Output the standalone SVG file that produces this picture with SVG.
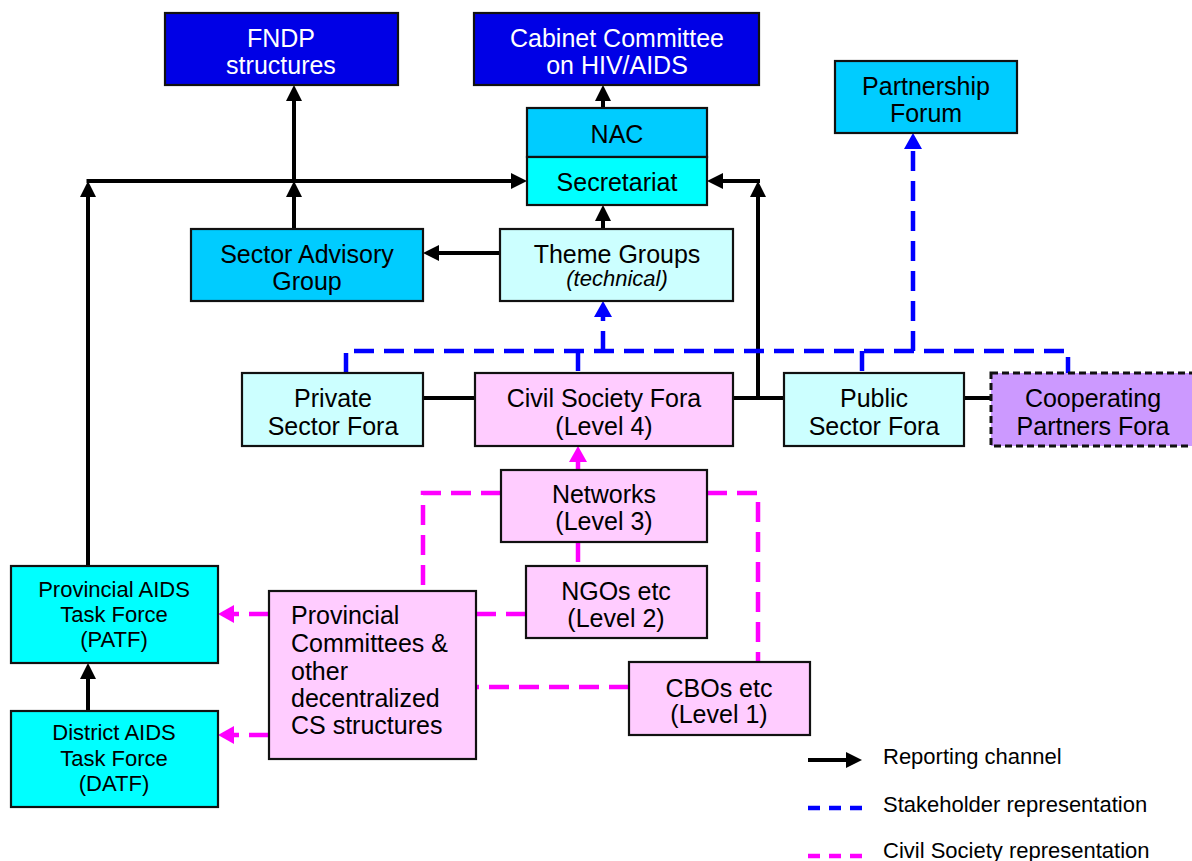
<svg xmlns="http://www.w3.org/2000/svg" width="1192" height="861" viewBox="0 0 1192 861">
<style>
text{font-family:"Liberation Sans",Arial,sans-serif;fill:#000;text-anchor:middle}
text.l{text-anchor:start}
.t25{font-size:25px}
.t22{font-size:22px}
.w{fill:#fff}
.box{stroke:#111;stroke-width:2.2}
.dk{fill:#0000E6}
.sky{fill:#00CCFF}
.cy{fill:#00FFFF}
.pale{fill:#CCFFFF}
.pink{fill:#FFCCFF}
.purp{fill:#CC99FF}
.rep{fill:none;stroke:#000;stroke-width:4}
.stk{fill:none;stroke:#0000FF;stroke-width:4.5;stroke-dasharray:20 10}
.cs{fill:none;stroke:#FF00FF;stroke-width:4.5;stroke-dasharray:20 10}
</style>
<defs>
<marker id="ab" markerUnits="userSpaceOnUse" markerWidth="18" markerHeight="18" refX="0" refY="8" orient="auto" overflow="visible"><path d="M0,0 L16,8 L0,16 Z" fill="#000"/></marker>
<marker id="abl" markerUnits="userSpaceOnUse" markerWidth="18" markerHeight="18" refX="0" refY="9" orient="auto" overflow="visible"><path d="M0,0 L16,9 L0,18 Z" fill="#0000FF"/></marker>
<marker id="am" markerUnits="userSpaceOnUse" markerWidth="18" markerHeight="18" refX="0" refY="9" orient="auto" overflow="visible"><path d="M0,0 L16,9 L0,18 Z" fill="#FF00FF"/></marker>
</defs>
<rect width="1192" height="861" fill="#fff"/>

<g id="connectors">
<path class="rep" d="M294,229 L294,197" marker-end="url(#ab)"/>
<path class="rep" d="M294,181 L294,101" marker-end="url(#ab)"/>
<path class="rep" d="M88,566 L88,197" marker-end="url(#ab)"/>
<path class="rep" d="M86.5,181 L511,181" stroke-width="3.5" marker-end="url(#ab)"/>
<path class="rep" d="M603,108 L603,101" marker-end="url(#ab)"/>
<path class="rep" d="M603,229 L603,221" marker-end="url(#ab)"/>
<path class="rep" d="M500,253 L439,253" stroke-width="5" marker-end="url(#ab)"/>
<path class="rep" d="M758,398 L758,197" marker-end="url(#ab)"/>
<path class="rep" d="M760,181 L723,181" marker-end="url(#ab)"/>
<path class="rep" d="M733,398 L784,398" stroke-width="3"/>
<path class="rep" d="M423,398 L475,398" stroke-width="3"/>
<path class="rep" d="M964,398 L991,398" stroke-width="5"/>
<path class="rep" d="M88,711 L88,679" marker-end="url(#ab)"/>

<path class="stk" d="M346,373 L346,351 L1068,351 L1068,373"/>
<path class="stk" d="M578,351 L578,373"/>
<path class="stk" d="M862,351 L862,373"/>
<path class="stk" d="M603,351 L603,317" marker-end="url(#abl)"/>
<path class="stk" d="M913,351 L913,149" marker-end="url(#abl)"/>

<path class="cs" d="M578,470 L578,462" marker-end="url(#am)"/>
<path class="cs" d="M578,542 L578,566"/>
<path class="cs" d="M501,493 L423,493 L423,591"/>
<path class="cs" d="M707,493 L758,493 L758,662"/>
<path class="cs" d="M526,614 L476,614"/>
<path class="cs" d="M629,687 L476,687"/>
<path class="cs" d="M269,614 L234,614" marker-end="url(#am)"/>
<path class="cs" d="M269,735 L234,735" marker-end="url(#am)"/>
</g>

<g id="fndp"><rect class="box dk" x="165" y="13" width="233" height="72"/>
<text class="t25 w" x="281" y="47">FNDP</text><text class="t25 w" x="281" y="74">structures</text></g>

<g id="cabinet"><rect class="box dk" x="474" y="13" width="285" height="72"/>
<text class="t25 w" x="617" y="47">Cabinet Committee</text><text class="t25 w" x="617" y="74">on HIV/AIDS</text></g>

<g id="nac"><rect class="box sky" x="527" y="108" width="180" height="49"/>
<text class="t25" x="617" y="143">NAC</text></g>
<g id="secretariat"><rect class="box cy" x="527" y="157" width="180" height="48"/>
<text class="t25" x="617" y="191">Secretariat</text></g>

<g id="partnership"><rect class="box sky" x="835" y="61" width="182" height="72"/>
<text class="t25" x="926" y="95">Partnership</text><text class="t25" x="926" y="122">Forum</text></g>

<g id="sag"><rect class="box sky" x="191" y="229" width="232" height="72"/>
<text class="t25" x="307" y="263">Sector Advisory</text><text class="t25" x="307" y="290">Group</text></g>

<g id="theme"><rect class="box pale" x="500" y="229" width="233" height="72"/>
<text class="t25" x="617" y="263">Theme Groups</text><text class="t22" x="617" y="286" font-style="italic">(technical)</text></g>

<g id="private"><rect class="box pale" x="242" y="373" width="181" height="73"/>
<text class="t25" x="333" y="407">Private</text><text class="t25" x="333" y="435">Sector Fora</text></g>

<g id="civil"><rect class="box pink" x="475" y="373" width="258" height="73"/>
<text class="t25" x="604" y="407">Civil Society Fora</text><text class="t25" x="604" y="435">(Level 4)</text></g>

<g id="public"><rect class="box pale" x="784" y="373" width="180" height="73"/>
<text class="t25" x="874" y="407">Public</text><text class="t25" x="874" y="435">Sector Fora</text></g>

<g id="cooperating"><rect class="purp" x="991" y="373" width="205" height="73" stroke="#111" stroke-width="3" stroke-dasharray="7 4"/>
<text class="t25" x="1093" y="407">Cooperating</text><text class="t25" x="1093" y="435">Partners Fora</text></g>

<g id="networks"><rect class="box pink" x="501" y="470" width="206" height="72"/>
<text class="t25" x="604" y="503">Networks</text><text class="t25" x="604" y="530">(Level 3)</text></g>

<g id="ngos"><rect class="box pink" x="526" y="566" width="181" height="72"/>
<text class="t25" x="616" y="600">NGOs etc</text><text class="t25" x="616" y="627">(Level 2)</text></g>

<g id="cbos"><rect class="box pink" x="629" y="662" width="181" height="73"/>
<text class="t25" x="719" y="697">CBOs etc</text><text class="t25" x="719" y="723">(Level 1)</text></g>

<g id="provcomm"><rect class="box pink" x="269" y="591" width="207" height="168"/>
<text class="t25 l" x="291" y="624">Provincial</text>
<text class="t25 l" x="291" y="652">Committees &amp;</text>
<text class="t25 l" x="291" y="680">other</text>
<text class="t25 l" x="291" y="707">decentralized</text>
<text class="t25 l" x="291" y="734">CS structures</text>
</g>

<g id="patf"><rect class="box cy" x="11" y="566" width="207" height="97"/>
<text class="t22" x="114" y="597">Provincial AIDS</text><text class="t22" x="114" y="622">Task Force</text><text class="t22" x="114" y="647">(PATF)</text></g>

<g id="datf"><rect class="box cy" x="11" y="711" width="207" height="96"/>
<text class="t22" x="114" y="740">District AIDS</text><text class="t22" x="114" y="766">Task Force</text><text class="t22" x="114" y="791">(DATF)</text></g>

<g id="legend">
<path class="rep" d="M808,760 L846,760" stroke-width="3.5" marker-end="url(#ab)"/>
<text class="t22 l" x="883" y="764">Reporting channel</text>
<path d="M808,808 L862,808" stroke="#0000FF" stroke-width="4.5" stroke-dasharray="12 9"/>
<text class="t22 l" x="883" y="812">Stakeholder representation</text>
<path d="M808,856 L862,856" stroke="#FF00FF" stroke-width="4.5" stroke-dasharray="12 9"/>
<text class="t22 l" x="883" y="858">Civil Society representation</text>
</g>
</svg>
